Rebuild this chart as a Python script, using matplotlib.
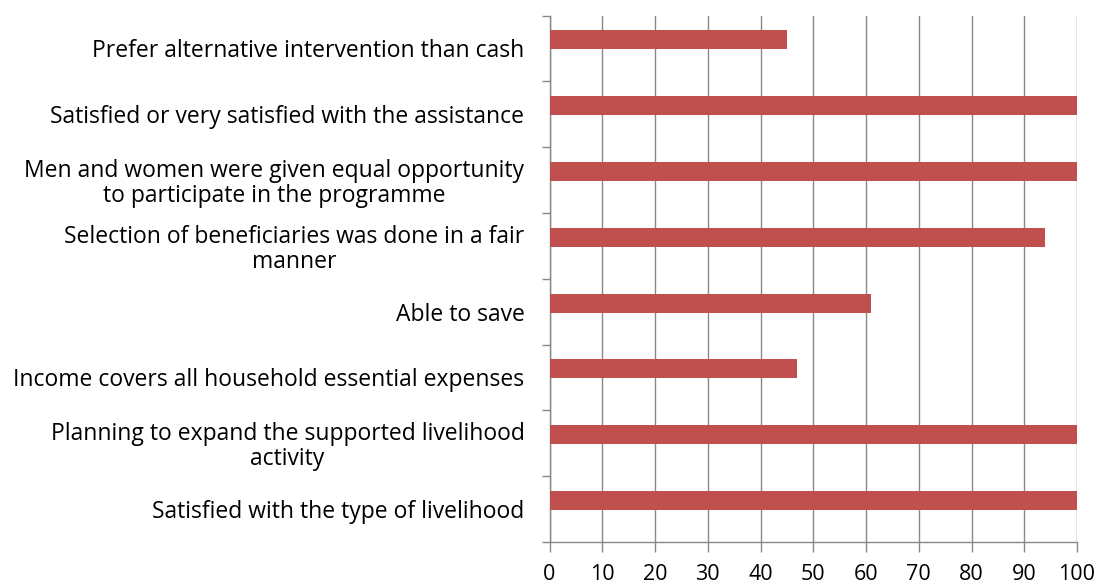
import matplotlib
matplotlib.use("Agg")
import matplotlib.pyplot as plt
import numpy as np

categories = [
    "Prefer alternative intervention than cash",
    "Satisfied or very satisfied with the assistance",
    "Men and women were given equal opportunity\nto participate in the programme",
    "Selection of beneficiaries was done in a fair\nmanner",
    "Able to save",
    "Income covers all household essential expenses",
    "Planning to expand the supported livelihood\nactivity",
    "Satisfied with the type of livelihood",
]
values = [45, 100, 100, 94, 61, 47, 100, 100]
xticks = [0, 10, 20, 30, 40, 50, 60, 70, 80, 90, 100]

plt.rcParams['font.family'] = ['Open Sans', 'DejaVu Sans']
fig = plt.figure(figsize=(10.99, 5.84), dpi=100)
ax = fig.add_axes([549.5/1099, 1-542/584, (1077-549.5)/1099, (542-15.5)/584])

n = len(categories)
pos = np.arange(n)
bar_offset = -0.13
ax.barh(pos + bar_offset, values, height=0.29, color='#C0504D', zorder=3)

ax.set_xlim(0, 100)
ax.set_ylim(n - 0.5, -0.5)
ax.set_xticks(xticks)
ax.set_xticklabels([str(t) for t in xticks], fontsize=15.5)
ax.set_yticks(pos)
ax.set_yticklabels(categories, fontsize=16.5, multialignment='center', linespacing=1.05)
ax.set_yticks(np.arange(n + 1) - 0.5, minor=True)
ax.tick_params(axis='y', which='major', length=0, pad=18)
ax.tick_params(axis='y', which='minor', length=6, color='#888888', width=1)
ax.tick_params(axis='x', length=7, color='#888888', width=1, pad=9)

ax.grid(axis='x', color='#888888', linewidth=1, zorder=0)
for s in ['top', 'right']:
    ax.spines[s].set_visible(False)
for s in ['left', 'bottom']:
    ax.spines[s].set_color('#888888')
    ax.spines[s].set_linewidth(1)

fig.savefig('out.png', dpi=100)
